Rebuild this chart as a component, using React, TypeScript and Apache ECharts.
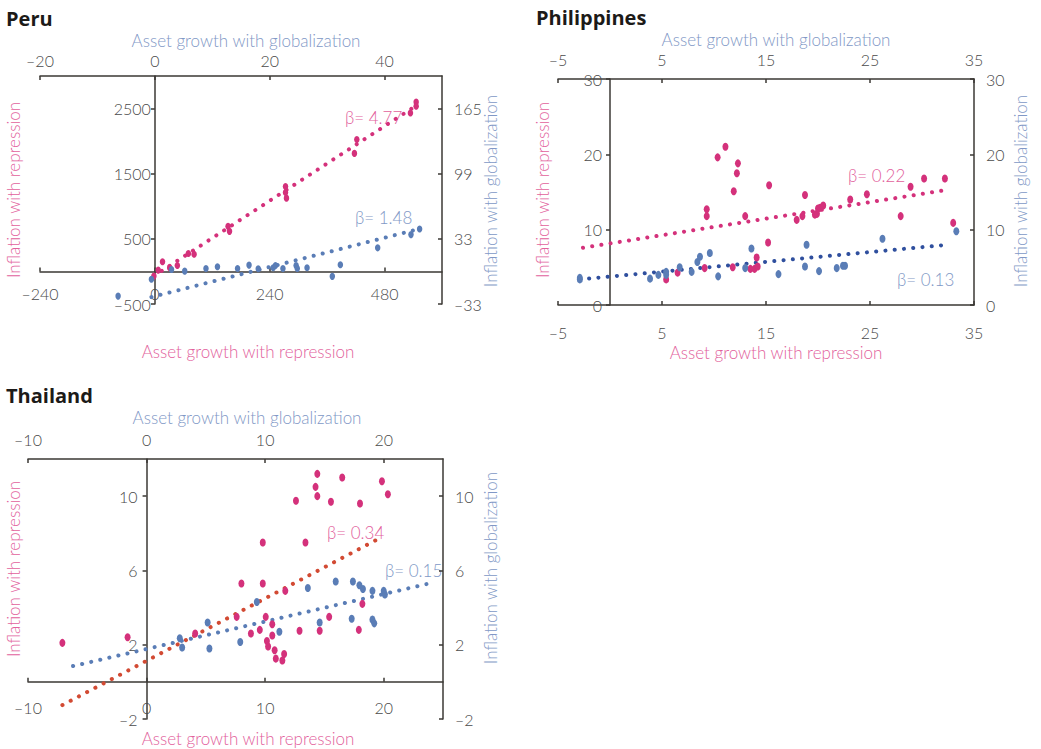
import React, { useEffect, useRef } from "react";
import * as echarts from "echarts";

// ---------- Peru ----------
const peruRepression: number[][] = [
  [-2, -72], [7, 20], [16, 148], [31, 56], [47, 92], [70, 275], [82, 265],
  [153, 692], [156, 615], [273, 1303], [273, 1211], [275, 1125],
  [417, 1812], [422, 2026], [534, 2432], [546, 2600], [546, 2535],
];
const peruGlobalization: number[][] = [
  [-6.4, -25], [-0.6, -8], [2.9, 2], [5.2, 0.3], [8.9, 3], [10.9, 4.7], [14.4, 3],
  [16.4, 6.4], [18, 2.7], [20.6, 3.7], [21, 6], [22.3, 3], [24.6, 6], [24.8, 3],
  [26.5, 3.7], [30.9, -5], [32.3, 6.7], [38.8, 23.9], [44.6, 37.3], [46.1, 43],
];
const peruRepressionTrend: number[][] = [[-2, -70], [546, 2545]];
const peruGlobalizationTrend: number[][] = [[-0.6, -26], [46, 43]];
const peruBottomTicks = [-240, 0, 240, 480];
const peruTopTicks = [-20, 0, 20, 40];
const peruLeftTicks = [-500, 500, 1500, 2500];
const peruRightTicks = [-33, 33, 99, 165];

// ---------- Philippines ----------
const phRepression: number[][] = [
  [5.4, 3.4], [6.5, 4.3], [9.1, 4.9], [9.3, 12.7], [9.3, 11.8], [10.35, 19.6], [11.1, 21.0],
  [11.8, 5.0], [11.9, 15.1], [12.2, 17.5], [12.3, 18.8], [13.0, 11.8], [13.5, 4.8], [13.9, 4.8],
  [14.1, 6.3], [14.2, 5.1], [15.2, 8.3], [15.3, 15.9], [17.95, 11.3], [18.5, 11.8], [18.75, 14.6],
  [19.7, 12.0], [19.9, 12.1], [20.0, 12.8], [20.2, 12.9], [20.5, 13.2], [23.1, 14.0], [24.7, 14.7],
  [27.95, 11.8], [28.9, 15.7], [30.2, 16.8], [32.2, 16.8], [33.0, 10.9],
];
const phGlobalization: number[][] = [
  [-2.9, 3.4], [-2.9, 3.6], [3.85, 3.5], [4.65, 4.0], [5.4, 4.4], [5.4, 4.0], [6.7, 5.0],
  [7.85, 4.4], [8.4, 5.7], [8.65, 6.4], [9.6, 6.9], [10.4, 3.8], [13.0, 4.9], [13.6, 7.5],
  [16.2, 4.1], [18.75, 5.1], [18.9, 8.0], [20.1, 4.5], [21.8, 4.9], [22.4, 5.2], [22.6, 5.2],
  [26.2, 8.8], [33.3, 9.8],
];
const phRepressionTrend: number[][] = [[-2.6, 7.6], [32.5, 15.3]];
const phGlobalizationTrend: number[][] = [[-2.9, 3.4], [32.5, 8.0]];
const phXTicks = [-5, 5, 15, 25, 35];
const phYTicks = [0, 10, 20, 30];

// ---------- Thailand ----------
const thRepression: number[][] = [
  [-7.1, 2.1], [-1.6, 2.4], [4.1, 2.6], [7.6, 3.5], [8.0, 5.3], [8.8, 2.6], [9.55, 2.8],
  [9.8, 7.5], [9.8, 5.3], [10.05, 3.5], [10.15, 2.2], [10.25, 1.9], [10.6, 3.1], [10.6, 2.5],
  [10.8, 1.7], [10.9, 1.25], [11.45, 1.15], [11.6, 1.5], [11.7, 4.9], [12.6, 9.75], [12.9, 2.75],
  [13.4, 7.5], [14.25, 10.5], [14.4, 11.2], [14.4, 10.0], [14.6, 2.75], [15.4, 3.5], [15.55, 9.7],
  [16.5, 11.0], [17.9, 2.8], [18.0, 9.6], [18.2, 4.2], [19.85, 10.8], [20.35, 10.1],
];
const thGlobalization: number[][] = [
  [2.8, 2.35], [3.0, 1.85], [5.15, 3.2], [5.3, 1.8], [7.9, 2.15], [9.3, 4.3], [11.2, 2.7],
  [13.6, 5.05], [14.6, 3.2], [15.95, 5.4], [17.3, 3.4], [17.4, 5.4], [17.95, 5.2], [18.25, 5.0],
  [19.05, 4.9], [19.05, 3.35], [19.2, 3.15], [20.0, 4.9], [20.1, 4.7],
];
const thRepressionTrend: number[][] = [[-7.1, -1.25], [19.85, 7.8]];
const thGlobalizationTrend: number[][] = [[-6.2, 0.85], [24.2, 5.35]];
const thXTicks = [-10, 0, 10, 20];
const thYTicks = [-2, 2, 6, 10];

const betaLabels = ["β= 4.77", "β= 1.48", "β= 0.22", "β= 0.13", "β= 0.34", "β= 0.15"];

// ---------- styles ----------
const PINK = "#d4317b";
const PINK_TEXT = "#e2619c";
const BLUE = "#5a7db6";
const BLUE_TEXT = "#8198c6";
const NAVY = "#2f4f9e";
const RED = "#d24a33";
const AXIS = "#3b3834";
const LABEL = "#4a4a4a";
const FONT = "Lato, 'Open Sans', sans-serif";

const fmt = (v: number) => (v < 0 ? "–" + Math.abs(v) : String(v));

// grid boxes
const GRIDS = [
  { left: 40, top: 76, width: 402, height: 228 },
  { left: 558, top: 79, width: 416, height: 226 },
  { left: 28, top: 459, width: 415, height: 260 },
];

function axis(
  gridIndex: number,
  position: string,
  min: number,
  max: number,
  ticks: number[],
  margin: number,
  tickInside: boolean,
  offset: number
) {
  return {
    type: "value",
    gridIndex,
    position,
    min,
    max,
    offset,
    axisLine: { show: true, onZero: false, lineStyle: { color: AXIS, width: 1.5 } },
    axisTick: {
      show: true,
      inside: tickInside,
      length: 4,
      customValues: ticks,
      lineStyle: { color: AXIS, width: 1.5 },
    },
    axisLabel: {
      show: true,
      customValues: ticks,
      margin,
      color: LABEL,
      fontSize: 16,
      fontFamily: FONT,
      fontWeight: 300,
      formatter: fmt,
    },
    splitLine: { show: false },
  };
}

// offset (negative) that moves a bottom x axis up onto the y zero value
function zeroOffsetX(g: number, yMin: number, yMax: number) {
  return -(GRIDS[g].height * (0 - yMin)) / (yMax - yMin);
}
// offset (negative) that moves a left y axis right onto the x zero value
function zeroOffsetY(g: number, xMin: number, xMax: number) {
  return -(GRIDS[g].width * (0 - xMin)) / (xMax - xMin);
}

function scatter(x: number, y: number, data: number[][], color: string, size: number[]) {
  return {
    type: "scatter",
    xAxisIndex: x,
    yAxisIndex: y,
    data,
    symbol: "circle",
    symbolSize: size,
    itemStyle: { color, opacity: 1 },
    silent: true,
    z: 3,
  };
}

function trend(x: number, y: number, data: number[][], color: string) {
  return {
    type: "line",
    xAxisIndex: x,
    yAxisIndex: y,
    data,
    symbol: "none",
    showSymbol: false,
    silent: true,
    lineStyle: { color, width: 4, type: [0.1, 9.2], cap: "round" },
    z: 2,
  };
}

function txt(text: string, x: number, y: number, color: string, size: number, opts: any = {}) {
  return {
    type: "text",
    x,
    y,
    rotation: opts.rotation || 0,
    silent: true,
    style: {
      text,
      fill: color,
      fontSize: size,
      fontFamily: opts.family || FONT,
      fontWeight: opts.weight || 300,
      align: opts.align || "center",
      verticalAlign: "middle",
      textAlign: opts.align || "center",
      textVerticalAlign: "middle",
    },
  };
}

export default function App() {
  const ref = useRef<HTMLDivElement>(null);
  useEffect(() => {
    if (!ref.current) return;
    const chart = echarts.init(ref.current, null, { renderer: "svg" });
    const V = Math.PI / 2;
    const option: any = {
      animation: false,
      backgroundColor: "#ffffff",
      grid: GRIDS.map((g) => ({ ...g, containLabel: false, outerBoundsMode: "none" })),
      xAxis: [
        axis(0, "bottom", -240, 600, peruBottomTicks, 14, true, zeroOffsetX(0, -500, 3000)),
        axis(0, "top", -20, 50, peruTopTicks, 8, true, 0),
        axis(1, "bottom", -5, 35, phXTicks, 19, true, zeroOffsetX(1, 0, 30)),
        axis(1, "top", -5, 35, phXTicks, 12, true, 0),
        axis(2, "bottom", -10, 25, thXTicks, 18, true, zeroOffsetX(2, -2, 12)),
        axis(2, "top", -10, 25, thXTicks, 12, true, 0),
      ],
      yAxis: [
        axis(0, "left", -500, 3000, peruLeftTicks, 4, false, zeroOffsetY(0, -240, 600)),
        axis(0, "right", -33, 198, peruRightTicks, 12, true, 0),
        axis(1, "left", 0, 30, phYTicks, 8, false, zeroOffsetY(1, -5, 35)),
        axis(1, "right", 0, 30, phYTicks, 12, true, 0),
        axis(2, "left", -2, 12, thYTicks, 9, false, zeroOffsetY(2, -10, 25)),
        axis(2, "right", -2, 12, thYTicks, 12, true, 0),
      ],
      series: [
        trend(0, 0, peruRepressionTrend, PINK),
        trend(1, 1, peruGlobalizationTrend, BLUE),
        scatter(0, 0, peruRepression, PINK, [5.5, 7]),
        scatter(1, 1, peruGlobalization, BLUE, [5.5, 7]),
        trend(2, 2, phRepressionTrend, PINK),
        trend(3, 3, phGlobalizationTrend, NAVY),
        scatter(2, 2, phRepression, PINK, [6, 8]),
        scatter(3, 3, phGlobalization, BLUE, [6, 8]),
        trend(4, 4, thRepressionTrend, RED),
        trend(5, 5, thGlobalizationTrend, BLUE),
        scatter(4, 4, thRepression, PINK, [6, 8]),
        scatter(5, 5, thGlobalization, BLUE, [6, 8]),
      ],
      graphic: [
        txt("Peru", 6, 18, "#1c1a18", 20, { align: "left", weight: 700, family: "'Open Sans', sans-serif" }),
        txt("Philippines", 536, 17, "#1c1a18", 20, { align: "left", weight: 700, family: "'Open Sans', sans-serif" }),
        txt("Thailand", 6, 395, "#1c1a18", 20, { align: "left", weight: 700, family: "'Open Sans', sans-serif" }),

        txt("Asset growth with globalization", 246, 40, BLUE_TEXT, 17),
        txt("Asset growth with repression", 248, 351, PINK_TEXT, 17),
        txt("Inflation with repression", 13, 190, PINK_TEXT, 17, { rotation: V }),
        txt("Inflation with globalization", 490, 191, BLUE_TEXT, 17, { rotation: V }),

        txt("Asset growth with globalization", 776, 39, BLUE_TEXT, 17),
        txt("Asset growth with repression", 776, 352, PINK_TEXT, 17),
        txt("Inflation with repression", 542, 190, PINK_TEXT, 17, { rotation: V }),
        txt("Inflation with globalization", 1020, 191, BLUE_TEXT, 17, { rotation: V }),

        txt("Asset growth with globalization", 247, 417, BLUE_TEXT, 17),
        txt("Asset growth with repression", 248, 738, PINK_TEXT, 17),
        txt("Inflation with repression", 13, 569, PINK_TEXT, 17, { rotation: V }),
        txt("Inflation with globalization", 490, 568, BLUE_TEXT, 17, { rotation: V }),

        txt(betaLabels[0], 345, 117, PINK_TEXT, 17, { align: "left" }),
        txt(betaLabels[1], 355, 217, BLUE_TEXT, 17, { align: "left" }),
        txt(betaLabels[2], 848, 175, PINK_TEXT, 17, { align: "left" }),
        txt(betaLabels[3], 897, 279, BLUE_TEXT, 17, { align: "left" }),
        txt(betaLabels[4], 327, 532, PINK_TEXT, 17, { align: "left" }),
        txt(betaLabels[5], 385, 570, BLUE_TEXT, 17, { align: "left" }),
      ],
    };
    chart.setOption(option);
    return () => chart.dispose();
  }, []);
  return (
    <div
      ref={ref}
      style={{ position: "absolute", left: 0, top: 0, width: 1041, height: 749, background: "#fff" }}
    />
  );
}
